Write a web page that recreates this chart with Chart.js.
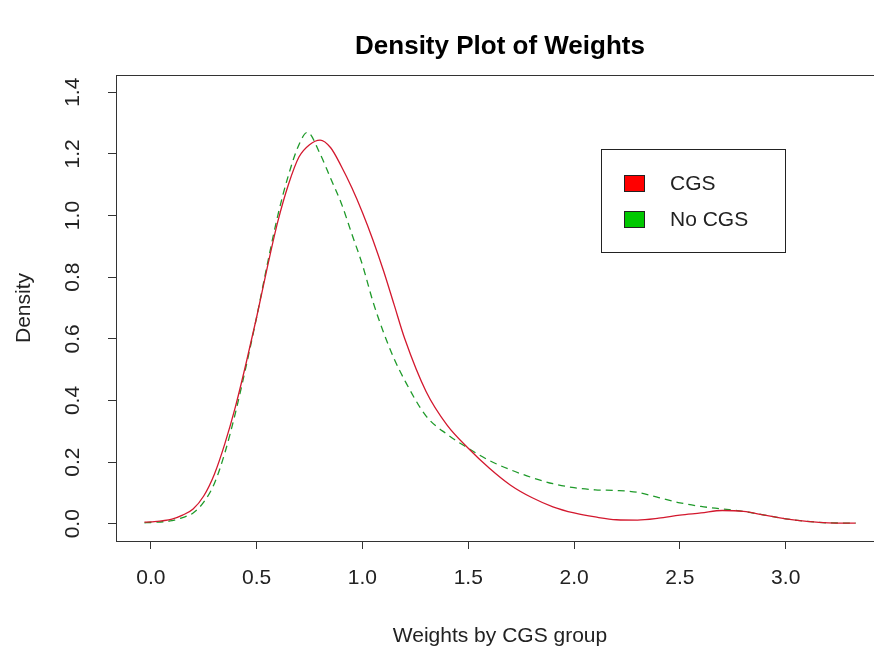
<!DOCTYPE html>
<html>
<head>
<meta charset="utf-8">
<script src="https://cdn.jsdelivr.net/npm/chart.js@4.4.1/dist/chart.umd.min.js"></script>
<style>
    html, body { margin: 0; padding: 0; background: #ffffff; overflow: hidden; }
    #wrap { width: 914px; height: 652px; position: relative; }
</style>
</head>
<body>
<div id="wrap"><canvas id="densityChart"></canvas></div>
<script>
// density estimates
const cgsX = [-0.03, 0.0, 0.1, 0.15, 0.2, 0.25, 0.3, 0.35, 0.4, 0.45, 0.5, 0.55, 0.6, 0.65, 0.7, 0.75, 0.8, 0.85, 0.9, 0.95, 1.0, 1.05, 1.1, 1.15, 1.2, 1.3, 1.4, 1.5, 1.6, 1.7, 1.8, 1.9, 2.0, 2.1, 2.2, 2.3, 2.4, 2.5, 2.6, 2.7, 2.8, 2.9, 3.0, 3.1, 3.2, 3.33];
const cgsY = [0.005, 0.006, 0.015, 0.028, 0.048, 0.09, 0.16, 0.26, 0.38, 0.52, 0.67, 0.83, 0.98, 1.1, 1.19, 1.23, 1.245, 1.22, 1.16, 1.09, 1.01, 0.92, 0.82, 0.71, 0.6, 0.43, 0.32, 0.245, 0.18, 0.125, 0.085, 0.055, 0.035, 0.022, 0.013, 0.012, 0.018, 0.028, 0.035, 0.043, 0.04, 0.028, 0.016, 0.008, 0.003, 0.002];

const noCgsX = [-0.03, 0.0, 0.1, 0.15, 0.2, 0.25, 0.3, 0.35, 0.4, 0.45, 0.5, 0.55, 0.6, 0.65, 0.7, 0.74, 0.8, 0.85, 0.9, 0.95, 1.0, 1.05, 1.1, 1.15, 1.2, 1.3, 1.4, 1.5, 1.6, 1.7, 1.8, 1.9, 2.0, 2.1, 2.2, 2.3, 2.4, 2.5, 2.6, 2.7, 2.8, 2.9, 3.0, 3.1, 3.2, 3.33];
const noCgsY = [0.003, 0.004, 0.01, 0.02, 0.035, 0.07, 0.13, 0.23, 0.36, 0.51, 0.67, 0.84, 1.0, 1.13, 1.23, 1.27, 1.2, 1.12, 1.04, 0.94, 0.84, 0.72, 0.62, 0.535, 0.465, 0.35, 0.29, 0.245, 0.205, 0.175, 0.15, 0.13, 0.117, 0.11, 0.108, 0.102, 0.085, 0.068, 0.056, 0.048, 0.04, 0.028, 0.016, 0.008, 0.003, 0.002];

const xTicks = [0.0, 0.5, 1.0, 1.5, 2.0, 2.5, 3.0];
const yTicks = [0.0, 0.2, 0.4, 0.6, 0.8, 1.0, 1.2, 1.4];
const seriesLabels = ["CGS", "No CGS"];
const legendFills = ["#ff0000", "#00c800"];

const chartTitle = "Density Plot of Weights";
const xTitle = "Weights by CGS group";
const yTitle = "Density";

(() => {
    const fontFamily = "'Liberation Sans', Arial, sans-serif";
    const ink = "#222222";

    // R style: 4% padding around data range
    const allX = cgsX.concat(noCgsX);
    const xLo = Math.min(...allX);
    const xHi = Math.max(...allX);
    const xPad = (xHi - xLo) * 0.04;
    const yLo = 0;
    const yHi = yTicks[yTicks.length - 1];
    const yPad = (yHi - yLo) * 0.04;

    function toPoints(xs, ys) {
        return xs.map((x, i) => ({ x: x, y: ys[i] }));
    }

    const fmt = (v) => Number(v).toFixed(1);

    const rFrame = {
        id: "rFrame",
        afterDraw(chart) {
            const { ctx, chartArea } = chart;
            const { left, top, right, bottom } = chartArea;
            const xScale = chart.scales.x;
            const yScale = chart.scales.y;
            ctx.save();
            ctx.strokeStyle = "#333333";
            ctx.lineWidth = 1;
            ctx.strokeRect(Math.round(left) + 0.5, Math.round(top) + 0.5,
                Math.round(right - left), Math.round(bottom - top));

            // tick labels, positioned by the scales
            ctx.fillStyle = ink;
            ctx.font = "21px " + fontFamily;
            ctx.textAlign = "center";
            ctx.textBaseline = "middle";
            xTicks.forEach((v) => {
                ctx.fillText(fmt(v), xScale.getPixelForValue(v), 578);
            });
            yTicks.forEach((v) => {
                ctx.save();
                ctx.translate(73, yScale.getPixelForValue(v));
                ctx.rotate(-Math.PI / 2);
                ctx.fillText(fmt(v), 0, 0);
                ctx.restore();
            });

            ctx.fillStyle = "#000000";
            const cx = (left + right) / 2;
            ctx.font = "bold 26px " + fontFamily;
            ctx.fillText(chartTitle, cx, 47);

            ctx.fillStyle = ink;
            ctx.font = "21px " + fontFamily;
            ctx.fillText(xTitle, cx, 636);

            ctx.save();
            ctx.translate(24, (top + bottom) / 2);
            ctx.rotate(-Math.PI / 2);
            ctx.fillText(yTitle, 0, 0);
            ctx.restore();

            // legend box
            const bx = 601, by = 149, bw = 184, bh = 103;
            ctx.strokeStyle = "#222222";
            ctx.strokeRect(bx + 0.5, by + 0.5, bw, bh);
            ctx.textAlign = "left";
            ctx.font = "21px " + fontFamily;
            seriesLabels.forEach((label, i) => {
                const rowY = by + 34 + i * 36;
                ctx.fillStyle = legendFills[i];
                ctx.fillRect(624, rowY - 8, 20, 16);
                ctx.strokeStyle = "#222222";
                ctx.strokeRect(624.5, rowY - 7.5, 20, 16);
                ctx.fillStyle = ink;
                ctx.fillText(label, 670, rowY + 1);
            });
            ctx.restore();
        },
    };

    new Chart(document.getElementById("densityChart"), {
        type: "line",
        data: {
            datasets: [
                {
                    label: seriesLabels[0],
                    data: toPoints(cgsX, cgsY),
                    borderColor: "#d3182e",
                    borderWidth: 1.3,
                    pointRadius: 0,
                    cubicInterpolationMode: "monotone",
                    fill: false,
                },
                {
                    label: seriesLabels[1],
                    data: toPoints(noCgsX, noCgsY),
                    borderColor: "#1f9a2a",
                    borderWidth: 1.3,
                    borderDash: [7, 5],
                    pointRadius: 0,
                    cubicInterpolationMode: "monotone",
                    fill: false,
                },
            ],
        },
        options: {
            responsive: true,
            maintainAspectRatio: false,
            animation: false,
            layout: { padding: { left: 116, top: 75, right: 30, bottom: 111 } },
            plugins: {
                legend: { display: false },
                tooltip: { enabled: false },
                title: { display: false },
            },
            scales: {
                x: {
                    type: "linear",
                    min: xLo - xPad,
                    max: xHi + xPad,
                    afterFit(scale) { scale.height = 0; },
                    afterBuildTicks(scale) { scale.ticks = xTicks.map((v) => ({ value: v })); },
                    border: { display: false },
                    grid: { drawOnChartArea: false, drawTicks: true, tickLength: 8, color: "#333333", lineWidth: 1 },
                    ticks: { display: false },
                },
                y: {
                    type: "linear",
                    min: yLo - yPad,
                    max: yHi + yPad,
                    afterFit(scale) { scale.width = 0; },
                    afterBuildTicks(scale) { scale.ticks = yTicks.map((v) => ({ value: v })); },
                    border: { display: false },
                    grid: { drawOnChartArea: false, drawTicks: true, tickLength: 8, color: "#333333", lineWidth: 1 },
                    ticks: { display: false },
                },
            },
        },
        plugins: [rFrame],
    });
})();
</script>
</body>
</html>
